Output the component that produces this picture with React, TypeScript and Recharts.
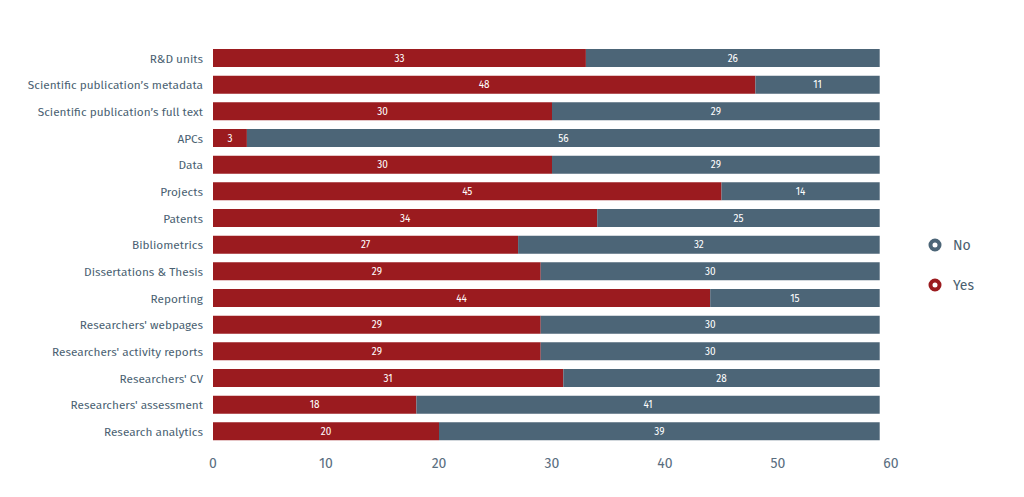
import React from 'react';
import { BarChart, Bar, XAxis, YAxis, LabelList } from 'recharts';

const categories = [
  'R&D units',
  'Scientific publication’s metadata',
  'Scientific publication’s full text',
  'APCs',
  'Data',
  'Projects',
  'Patents',
  'Bibliometrics',
  'Dissertations & Thesis',
  'Reporting',
  "Researchers' webpages",
  "Researchers' activity reports",
  "Researchers' CV",
  "Researchers' assessment",
  'Research analytics',
];
const yesValues = [33, 48, 30, 3, 30, 45, 34, 27, 29, 44, 29, 29, 31, 18, 20];
const noValues = [26, 11, 29, 56, 29, 14, 25, 32, 30, 15, 30, 30, 28, 41, 39];
const xTicks = [0, 10, 20, 30, 40, 50, 60];

const RED = '#9b1b1f';
const SLATE = '#4c6577';
const FONT = '"Fira Sans", "Noto Sans", "Open Sans", sans-serif';

const data = categories.map((name, i) => ({ name, yes: yesValues[i], no: noValues[i] }));

function LegendItem({ color, label }: { color: string; label: string }) {
  return (
    <div style={{ display: 'flex', alignItems: 'center', height: 40 }}>
      <svg width={16} height={16} style={{ marginRight: 10 }}>
        <circle cx={8} cy={8} r={4.5} fill="#fff" stroke={color} strokeWidth={4} />
      </svg>
      <span style={{ fontSize: 14, color: '#4a5f70' }}>{label}</span>
    </div>
  );
}

export default function App() {
  return (
    <div style={{ position: 'absolute', left: 0, top: 0, width: 1024, height: 497, fontFamily: FONT }}>
      <BarChart
        width={1024}
        height={497}
        data={data}
        layout="vertical"
        margin={{ top: 45, right: 133, bottom: 22, left: 0 }}
        barSize={18}
      >
        <XAxis
          type="number"
          domain={[0, 60]}
          ticks={xTicks}
          axisLine={false}
          tickLine={false}
          tickSize={6}
          tickMargin={7}
          height={30}
          tick={{ fontSize: 14, fill: '#5a6e7f', fontFamily: FONT }}
        />
        <YAxis
          type="category"
          dataKey="name"
          width={213}
          axisLine={false}
          tickLine={false}
          tickSize={6}
          tickMargin={4}
          interval={0}
          tick={{ fontSize: 11.8, fill: '#4a5f72', fontFamily: FONT }}
        />
        <Bar dataKey="yes" stackId="a" fill={RED} isAnimationActive={false}>
          <LabelList dataKey="yes" position="center" fill="#fff" fontSize={10} fontFamily={FONT} />
        </Bar>
        <Bar dataKey="no" stackId="a" fill={SLATE} isAnimationActive={false}>
          <LabelList dataKey="no" position="center" fill="#fff" fontSize={10} fontFamily={FONT} />
        </Bar>
      </BarChart>
      <div style={{ position: 'absolute', left: 927, top: 225 }}>
        <LegendItem color={SLATE} label="No" />
        <LegendItem color={RED} label="Yes" />
      </div>
    </div>
  );
}
